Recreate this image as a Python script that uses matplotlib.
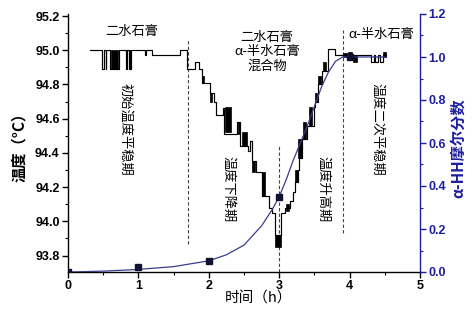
import matplotlib
matplotlib.use("Agg")
import matplotlib.pyplot as plt
from matplotlib.ticker import MultipleLocator

# ---------------- data ----------------
# temperature record (step line, steps-post)
temp_t = [0.31, 0.49, 0.51, 0.535, 0.545, 0.60, 0.72, 0.83, 0.845, 0.86, 0.875, 0.88, 0.895,
          1.09, 1.115, 1.19, 1.59, 1.695, 1.80, 1.86, 1.90, 2.02, 2.07, 2.10, 2.20, 2.21,
          2.40, 2.45, 2.55, 2.58, 2.61, 2.67, 2.76, 2.86, 2.90, 2.935, 3.03, 3.08, 3.15,
          3.20, 3.22, 3.27, 3.28, 3.33, 3.40, 3.49, 3.51, 3.555, 3.61, 3.69, 3.79,
          4.31, 4.34, 4.36, 4.40, 4.43, 4.47, 4.52]
temp_v = [95.00, 94.89, 95.00, 94.89, 95.00, 94.89, 95.00, 94.89, 95.00, 94.89, 95.00, 94.89, 95.00,
          94.97, 95.00, 94.975, 95.00, 94.89, 94.93, 94.89, 94.81, 94.75, 94.70, 94.62, 94.66, 94.51,
          94.58, 94.44, 94.41, 94.47, 94.35, 94.29, 94.15, 94.08, 94.05, 93.92, 94.05, 94.08, 94.12,
          94.17, 94.23, 94.30, 94.37, 94.48, 94.56, 94.67, 94.70, 94.80, 94.88, 95.01, 94.975,
          94.93, 94.975, 94.93, 94.975, 94.93, 94.975, 94.975]

# rapidly oscillating readings (dense black blocks): start, end, low, high
osc_t0 = [0.61, 1.91, 2.02, 2.23, 2.42, 2.47, 2.62, 2.75, 2.94, 3.09, 3.22, 3.27, 3.34, 3.42,
          3.51, 3.555, 3.62, 3.91, 3.98, 4.05, 4.47]
osc_t1 = [0.71, 1.93, 2.05, 2.31, 2.44, 2.54, 2.65, 2.80, 3.03, 3.14, 3.27, 3.32, 3.38, 3.47,
          3.54, 3.59, 3.67, 3.97, 4.04, 4.11, 4.52]
osc_lo = [94.89, 94.81, 94.70, 94.52, 94.51, 94.44, 94.29, 94.15, 93.85, 94.06, 94.23, 94.37,
          94.48, 94.56, 94.70, 94.80, 94.88, 94.96, 94.955, 94.93, 94.96]
osc_hi = [95.00, 94.85, 94.75, 94.67, 94.58, 94.52, 94.35, 94.29, 93.92, 94.10, 94.30, 94.48,
          94.58, 94.67, 94.75, 94.85, 94.93, 94.985, 94.99, 94.975, 94.99]

# alpha-HH molar fraction: measured points and fitted curve
mf_t = [0, 1, 2, 3, 4]
mf_v = [0.0, 0.025, 0.05, 0.35, 1.0]
fit_t = [0, 0.5, 1.0, 1.5, 2.0, 2.25, 2.5, 2.75, 2.9, 3.0, 3.1, 3.2, 3.3, 3.4, 3.5, 3.6,
         3.7, 3.8, 3.9, 4.0, 4.5]
fit_v = [0, 0.004, 0.012, 0.025, 0.052, 0.08, 0.125, 0.215, 0.29, 0.35, 0.43, 0.52, 0.60,
         0.68, 0.77, 0.86, 0.93, 0.98, 1.0, 1.0, 1.0]

# stage boundaries (dashed lines): x, ymin, ymax (temperature units)
bound_x = [1.7, 3.0, 3.9]
bound_lo = [93.87, 93.704, 93.93]
bound_hi = [95.06, 94.44, 95.12]

x_ticks = [0, 1, 2, 3, 4, 5]
yl_ticks = [93.8, 94.0, 94.2, 94.4, 94.6, 94.8, 95.0, 95.2]
yr_ticks = [0.0, 0.2, 0.4, 0.6, 0.8, 1.0, 1.2]

# ---------------- plot ----------------
CJK = ['Noto Sans CJK SC', 'DejaVu Sans']
NUM = ['Liberation Sans', 'DejaVu Sans']
BLUE = '#1e1ea0'

fig = plt.figure(figsize=(4.74, 3.15), dpi=100)
ax = fig.add_axes([68/474, 43/315, 352/474, 258/315])
ax.set_xlim(0, 5)
ax.set_ylim(93.704, 95.212)

ax.plot(temp_t, temp_v, drawstyle='steps-post', color='black', lw=0.85, zorder=3)
ax.bar(osc_t0, [h - l for h, l in zip(osc_hi, osc_lo)],
       width=[b - a for a, b in zip(osc_t0, osc_t1)], bottom=osc_lo,
       align='edge', color='black', edgecolor='black', lw=0.5, zorder=3)

ax.vlines(bound_x, bound_lo, bound_hi, colors='#444444', linestyles=(0, (3, 2)), lw=0.8)

ax2 = ax.twinx()
ax2.set_ylim(0, 1.184)
ax2.plot(fit_t, fit_v, color='#3b3b8f', lw=0.9, zorder=4)
ax2.plot(mf_t, mf_v, ls='none', marker='s', ms=4.5, color='#111133', zorder=5)

for a in (ax, ax2):
    a.spines['top'].set_visible(False)
ax.spines['right'].set_visible(False)
ax2.spines['left'].set_visible(False)
ax2.spines['bottom'].set_visible(False)
ax2.spines['right'].set_color(BLUE)
for s in ('left', 'bottom'):
    ax.spines[s].set_linewidth(1.0)
ax2.spines['right'].set_linewidth(1.0)

ax.set_xticks(x_ticks)
ax.xaxis.set_minor_locator(MultipleLocator(0.5))
ax.set_yticks(yl_ticks)
ax.yaxis.set_minor_locator(MultipleLocator(0.1))
ax2.set_yticks(yr_ticks)
ax2.yaxis.set_minor_locator(MultipleLocator(0.1))

ax.tick_params(which='major', direction='out', length=4, width=1, labelsize=9, pad=2)
ax.tick_params(which='minor', direction='out', length=2.5, width=0.8)
ax2.tick_params(which='major', direction='out', length=4, width=1, labelsize=9,
                colors=BLUE, pad=2)
ax2.tick_params(which='minor', direction='out', length=2.5, width=0.8, colors=BLUE)

ax.set_xticklabels([str(v) for v in x_ticks], family=NUM, weight='bold')
ax.set_yticklabels([f'{v:.1f}' for v in yl_ticks], family=NUM, weight='bold')
ax2.set_yticklabels([f'{v:.1f}' for v in yr_ticks], family=NUM, weight='bold', color=BLUE)

fig.text(19/474, 1 - 143/315, '温度（°C）', rotation=90, ha='center', va='center',
         family=CJK, fontsize=11, weight='bold')
fig.text(258/474, 1 - 299/315, '时间（h）', ha='center', va='center',
         family=CJK, fontsize=10.5)
fig.text(458/474, 1 - 148/315, 'α-HH摩尔分数', rotation=90, ha='center', va='center',
         family=CJK, fontsize=11, weight='bold', color=BLUE)

ax.text(0.91, 95.11, '二水石膏', ha='center', va='center', family=CJK, fontsize=9.5)
ax.text(2.83, 94.99, '二水石膏\nα-半水石膏\n混合物', ha='center', va='center',
        family=CJK, fontsize=9.5, linespacing=1.15)
ax.text(4.45, 95.09, 'α-半水石膏', ha='center', va='center', family=CJK, fontsize=9.5)

ax.text(0.81, 94.54, '初始温度平稳期', rotation=-90, ha='center', va='center', family=CJK, fontsize=9.5)
ax.text(2.27, 94.19, '温度下降期', rotation=-90, ha='center', va='center', family=CJK, fontsize=9.5)
ax.text(3.62, 94.19, '温度升高期', rotation=-90, ha='center', va='center', family=CJK, fontsize=9.5)
ax.text(4.39, 94.54, '温度二次平稳期', rotation=-90, ha='center', va='center', family=CJK, fontsize=9.5)

fig.savefig('out.png', dpi=100)
